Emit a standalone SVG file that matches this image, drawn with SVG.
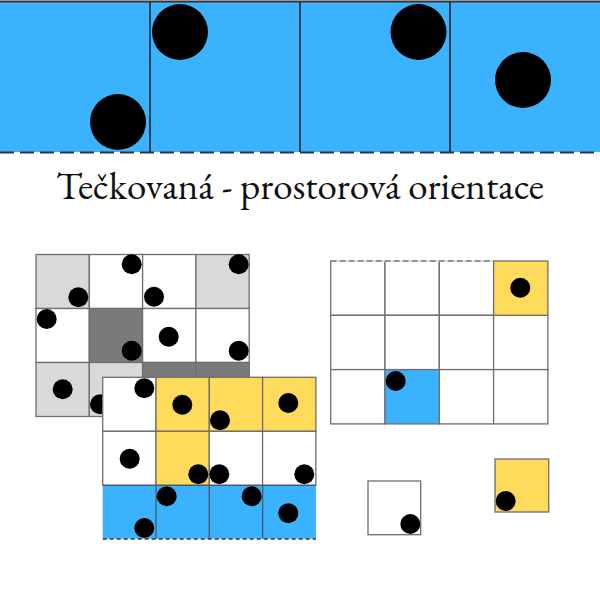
<svg xmlns="http://www.w3.org/2000/svg" width="600" height="600" viewBox="0 0 600 600">
<style>
.blue{fill:#3bb2fd}
.yel{fill:#ffdb5c}
.lg{fill:#d9d9d9}
.dg{fill:#7a7a7a}
.wh{fill:#ffffff}
.cell{stroke:#6e6e6e;stroke-width:1.3}
.dot{fill:#000}
.title{font-family:"EB Garamond","Liberation Serif",serif;font-size:38px;fill:#111}
</style>
<rect width="600" height="600" fill="#fff"/>
<g id="top-band">
<rect x="0" y="2" width="600" height="150" class="blue"/>
<line x1="0" y1="1.5" x2="600" y2="1.5" stroke="#333" stroke-width="2"/>
<line x1="0" y1="152.5" x2="600" y2="152.5" stroke="#333" stroke-width="2" stroke-dasharray="14 6"/>
<line x1="150" y1="2" x2="150" y2="152" stroke="#1d3446" stroke-width="1.8"/>
<line x1="300" y1="2" x2="300" y2="152" stroke="#1d3446" stroke-width="1.8"/>
<line x1="450" y1="2" x2="450" y2="152" stroke="#1d3446" stroke-width="1.8"/>
<circle class="dot" cx="118" cy="122" r="28"/>
<circle class="dot" cx="180" cy="32" r="28"/>
<circle class="dot" cx="418.5" cy="32" r="28"/>
<circle class="dot" cx="523" cy="80" r="28"/>
</g>
<text class="title" x="300" y="199" text-anchor="middle" textLength="488" lengthAdjust="spacingAndGlyphs">Tečkovaná - prostorová orientace</text>
<g id="gray-grid">
<rect class="cell lg" x="36" y="254.5" width="53.3" height="54"/>
<rect class="cell wh" x="89.3" y="254.5" width="53.3" height="54"/>
<rect class="cell wh" x="142.6" y="254.5" width="53.3" height="54"/>
<rect class="cell lg" x="195.9" y="254.5" width="53.3" height="54"/>
<rect class="cell wh" x="36" y="308.5" width="53.3" height="54"/>
<rect class="cell dg" x="89.3" y="308.5" width="53.3" height="54"/>
<rect class="cell wh" x="142.6" y="308.5" width="53.3" height="54"/>
<rect class="cell wh" x="195.9" y="308.5" width="53.3" height="54"/>
<rect class="cell lg" x="36" y="362.5" width="53.3" height="54"/>
<rect class="cell lg" x="89.3" y="362.5" width="53.3" height="54"/>
<rect class="cell dg" x="142.6" y="362.5" width="53.3" height="54"/>
<rect class="cell dg" x="195.9" y="362.5" width="53.3" height="54"/>
<circle class="dot" cx="78.3" cy="297.3" r="10"/>
<circle class="dot" cx="131.7" cy="264.3" r="10"/>
<circle class="dot" cx="154" cy="296.7" r="10"/>
<circle class="dot" cx="238.7" cy="264.3" r="10"/>
<circle class="dot" cx="46.7" cy="319" r="10"/>
<circle class="dot" cx="131.7" cy="350.7" r="10"/>
<circle class="dot" cx="168.7" cy="336.7" r="10"/>
<circle class="dot" cx="238.7" cy="350.7" r="10"/>
<circle class="dot" cx="62.7" cy="389.3" r="10"/>
<circle class="dot" cx="100" cy="404.3" r="10"/>
</g>
<g id="color-grid">
<rect class="cell wh" x="102.7" y="377.3" width="53.3" height="54"/>
<rect class="cell yel" x="156" y="377.3" width="53.3" height="54"/>
<rect class="cell yel" x="209.3" y="377.3" width="53.3" height="54"/>
<rect class="cell yel" x="262.6" y="377.3" width="53.3" height="54"/>
<rect class="cell wh" x="102.7" y="431.3" width="53.3" height="54"/>
<rect class="cell yel" x="156" y="431.3" width="53.3" height="54"/>
<rect class="cell wh" x="209.3" y="431.3" width="53.3" height="54"/>
<rect class="cell wh" x="262.6" y="431.3" width="53.3" height="54"/>
<rect class="blue" x="102.7" y="485.3" width="213.2" height="53.4"/>
<g stroke="#44586a" stroke-width="1.3">
<line x1="156" y1="485.3" x2="156" y2="538.7"/>
<line x1="209.3" y1="485.3" x2="209.3" y2="538.7"/>
<line x1="262.6" y1="485.3" x2="262.6" y2="538.7"/>
<line x1="102.7" y1="485.3" x2="315.9" y2="485.3"/>
</g>
<line x1="102.7" y1="539" x2="315.9" y2="539" stroke="#333" stroke-width="1.5" stroke-dasharray="4 3"/>
<circle class="dot" cx="144.3" cy="388.3" r="10"/>
<circle class="dot" cx="182.3" cy="404.7" r="10"/>
<circle class="dot" cx="220" cy="420.3" r="10"/>
<circle class="dot" cx="288.3" cy="403" r="10"/>
<circle class="dot" cx="129.7" cy="458.7" r="10"/>
<circle class="dot" cx="198.3" cy="474.3" r="10"/>
<circle class="dot" cx="219.3" cy="474.3" r="10"/>
<circle class="dot" cx="304.3" cy="474.3" r="10"/>
<circle class="dot" cx="166.7" cy="496.3" r="10"/>
<circle class="dot" cx="251.7" cy="496.3" r="10"/>
<circle class="dot" cx="288.3" cy="513.3" r="10"/>
<circle class="dot" cx="144.3" cy="528" r="10"/>
</g>
<g id="right-grid">
<g class="cell" fill="#fff">
<rect x="330.7" y="261" width="54.3" height="54.3"/>
<rect x="385" y="261" width="54.3" height="54.3"/>
<rect x="439.3" y="261" width="54.3" height="54.3"/>
<rect x="330.7" y="315.3" width="54.3" height="54.3"/>
<rect x="385" y="315.3" width="54.3" height="54.3"/>
<rect x="439.3" y="315.3" width="54.3" height="54.3"/>
<rect x="493.6" y="315.3" width="54.3" height="54.3"/>
<rect x="330.7" y="369.6" width="54.3" height="54.3"/>
<rect x="439.3" y="369.6" width="54.3" height="54.3"/>
<rect x="493.6" y="369.6" width="54.3" height="54.3"/>
</g>
<rect class="cell yel" x="493.6" y="261" width="54.3" height="54.3"/>
<rect class="cell blue" x="385" y="369.6" width="54.3" height="54.3"/>
<line x1="330.7" y1="261" x2="493.6" y2="261" stroke="#fff" stroke-width="1.6"/>
<line x1="330.7" y1="261" x2="493.6" y2="261" stroke="#777" stroke-width="1.3" stroke-dasharray="6 3"/>
<circle class="dot" cx="520.3" cy="287.7" r="10"/>
<circle class="dot" cx="395.7" cy="381" r="10"/>
</g>
<g id="white-square">
<rect class="cell wh" x="368" y="481" width="52.7" height="53.7"/>
<circle class="dot" cx="410.3" cy="524" r="10"/>
</g>
<g id="yellow-square">
<rect class="cell yel" x="495" y="459" width="53.7" height="53"/>
<circle class="dot" cx="505.7" cy="501" r="10"/>
</g>
</svg>
